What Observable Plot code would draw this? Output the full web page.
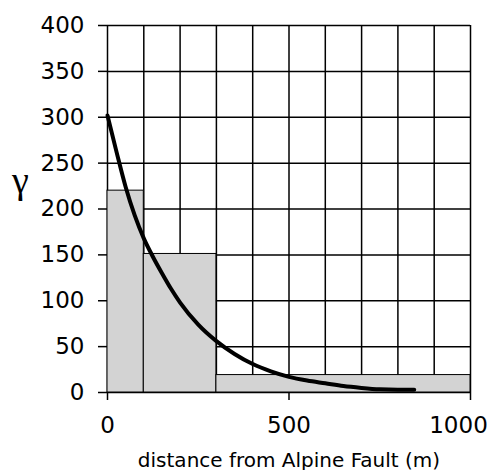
<!DOCTYPE html>
<html>
<head>
<meta charset="utf-8">
<script src="https://cdn.jsdelivr.net/npm/d3@7"></script>
<script src="https://cdn.jsdelivr.net/npm/@observablehq/plot@0.6"></script>
<style>
  html, body { margin: 0; padding: 0; background: #fff; }
</style>
</head>
<body>
<div id="chart"></div>
<script>
// Histogram bins (distance from Alpine Fault, m) and values
const binStart = [0, 100, 300];
const binEnd = [100, 300, 1000];
const binValue = [220, 151, 19];

// Fitted curve
const curveX = [0, 25, 50, 75, 100, 125, 150, 175, 200, 250, 300, 350, 400, 450, 500, 550, 600, 650, 700, 750, 800, 845];
const curveY = [302, 262, 224, 193, 168, 148, 130, 113, 98, 74, 56, 42, 31, 23, 17, 13, 10, 7, 5, 3.5, 3, 3];

// Ticks and grid
const xGrid = [0, 100, 200, 300, 400, 500, 600, 700, 800, 900, 1000];
const yGrid = [0, 50, 100, 150, 200, 250, 300, 350, 400];
const xTicks = [0, 500, 1000];
const xTicksEdge = [1000];
const yTicks = [0, 50, 100, 150, 200, 250, 300, 350, 400];

const xLabel = "distance from Alpine Fault (m)";
const yLabel = "γ";

const bars = binStart.map((s, i) => ({x1: s, x2: binEnd[i], y: binValue[i]}));
const curve = curveX.map((x, i) => ({x, y: curveY[i]}));

const font = "'DejaVu Sans', 'Liberation Sans', Arial, sans-serif";

const chart = Plot.plot({
  width: 491,
  height: 470,
  marginLeft: 107,
  marginRight: 21,
  marginTop: 25,
  marginBottom: 78,
  style: {fontFamily: font, color: "black", background: "white"},
  x: {domain: [0, 1000]},
  y: {domain: [0, 400]},
  marks: [
    Plot.ruleX(xGrid, {stroke: "black", strokeWidth: 1.5}),
    Plot.ruleY(yGrid, {stroke: "black", strokeWidth: 1.5}),
    Plot.rect(bars, {x1: "x1", x2: "x2", y1: 0, y2: "y", fill: "#d3d3d3", stroke: "black", strokeWidth: 1}),
    Plot.line(curve, {x: "x", y: "y", stroke: "black", strokeWidth: 4, curve: "monotone-x"}),
    Plot.axisY({ticks: yTicks, tickFormat: "d", tickSize: 9, tickPadding: 14, fontSize: 23, strokeWidth: 1.5, label: null}),
    Plot.axisX({ticks: xTicks, tickFormat: d => xTicksEdge.includes(d) ? "" : String(d), tickSize: 8, tickPadding: 16, fontSize: 23, strokeWidth: 1.5, label: null}),
    Plot.text(xTicksEdge, {x: d => d, text: d => String(d), frameAnchor: "bottom", lineAnchor: "top", dy: 24, dx: -12, fontSize: 23}),
    Plot.text([xLabel], {frameAnchor: "bottom", lineAnchor: "bottom", dy: 74, fontSize: 20}),
    Plot.text([yLabel], {frameAnchor: "left", lineAnchor: "bottom", textAnchor: "middle", dx: -87, dy: -16, fontSize: 38, fontFamily: "'Liberation Serif', 'DejaVu Serif', serif"})
  ]
});
document.getElementById("chart").appendChild(chart);
</script>
</body>
</html>
